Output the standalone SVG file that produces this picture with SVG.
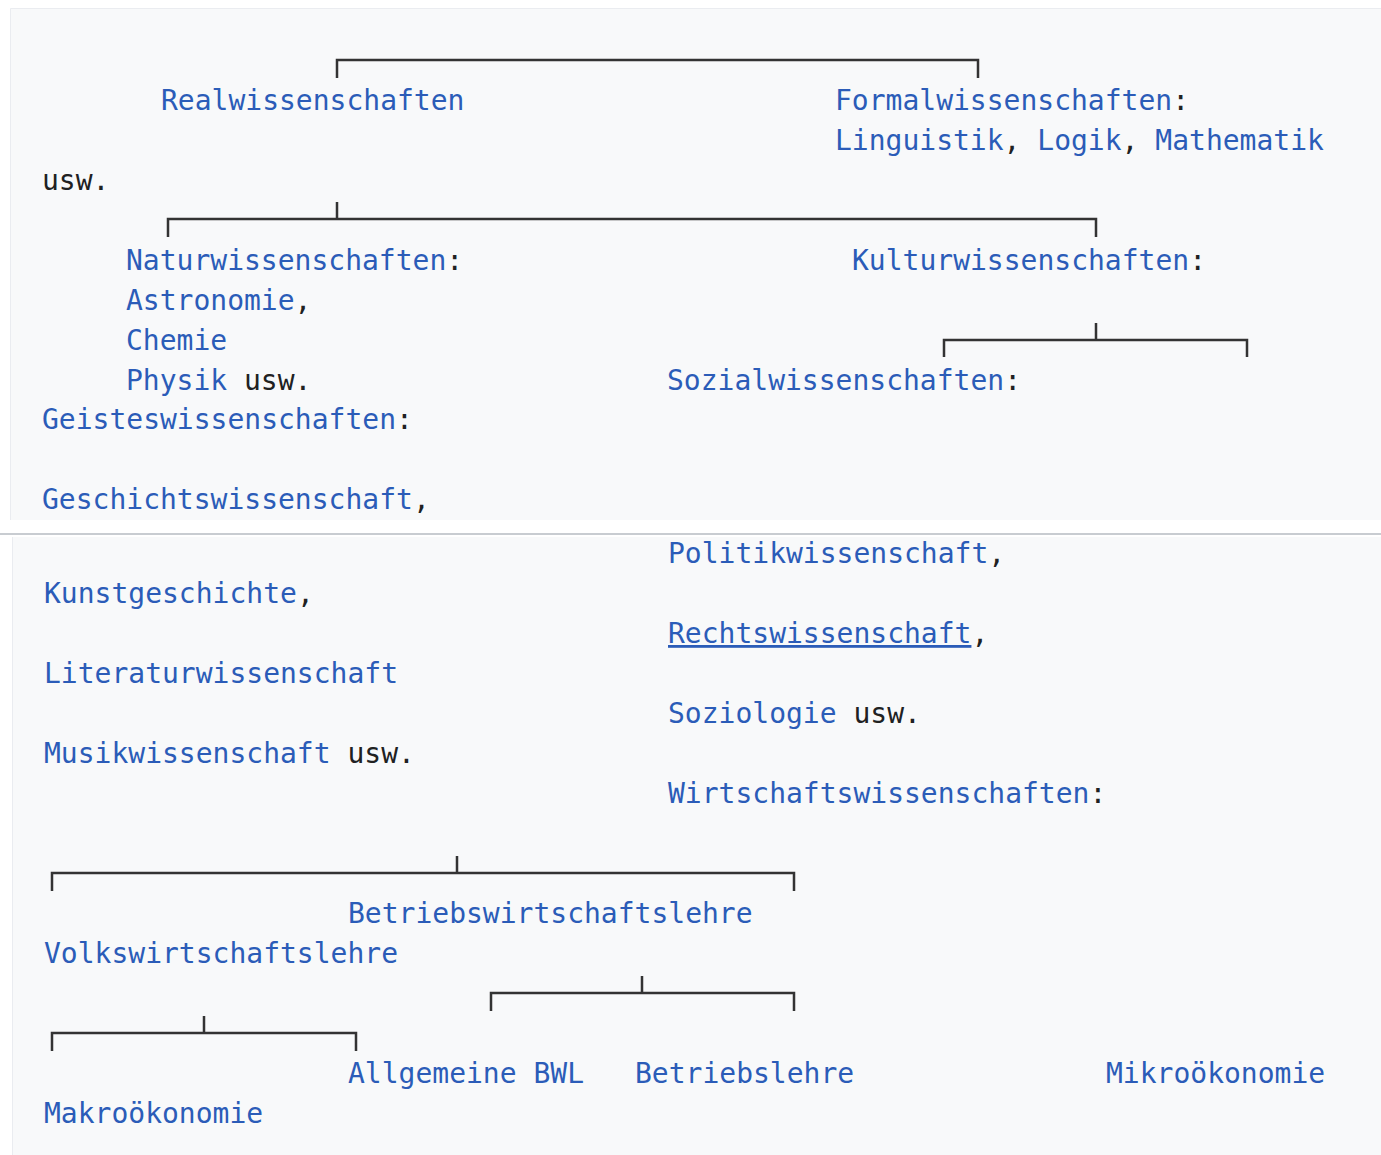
<svg xmlns="http://www.w3.org/2000/svg" width="1381" height="1155" viewBox="0 0 1381 1155">
  <style>
    .t{font-family:"DejaVu Sans Mono","Liberation Mono",monospace;font-size:28px;fill:#2b5cb8}
    .k{fill:#202122}
    .u{text-decoration:underline}
    .c{stroke:#333;stroke-width:2.5;fill:none}
  </style>

  <!-- page background and the two preformatted panels -->
  <rect x="0" y="0" width="1381" height="1155" fill="#ffffff"/>
  <rect x="10" y="8" width="1371" height="512" fill="#f8f9fa"/>
  <path d="M10.5,520 V8.5 H1381" stroke="#eaecf0" stroke-width="1" fill="none"/>
  <rect x="0" y="533" width="1381" height="2" fill="#c8ccd1"/>
  <rect x="12" y="537" width="1369" height="618" fill="#f8f9fa"/>
  <path d="M12.5,1155 V537" stroke="#eaecf0" stroke-width="1" fill="none"/>

  <!-- tree connectors -->
  <g id="connectors">
    <path class="c" d="M337,78 V60 H978 V78"/>
    <path class="c" d="M168,237 V219 H1096 V237 M337,202 V219"/>
    <path class="c" d="M944,357 V340 H1247 V357 M1096,323 V340"/>
    <path class="c" d="M52,891 V873 H794 V891 M457,856 V873"/>
    <path class="c" d="M491,1011 V993 H794 V1011 M642,976 V993"/>
    <path class="c" d="M52,1051 V1033 H356 V1051 M204,1016 V1033"/>
  </g>

  <!-- upper panel -->
  <g id="realwissenschaften">
    <text class="t" x="161" y="110">Realwissenschaften</text>
  </g>
  <g id="formalwissenschaften">
    <text class="t" x="835" y="110">Formalwissenschaften<tspan class="k">:</tspan></text>
    <text class="t" x="835" y="150" xml:space="preserve">Linguistik<tspan class="k">,</tspan> Logik<tspan class="k">,</tspan> Mathematik</text>
    <text class="t k" x="42" y="190">usw.</text>
  </g>
  <g id="naturwissenschaften">
    <text class="t" x="126" y="270">Naturwissenschaften<tspan class="k">:</tspan></text>
    <text class="t" x="126" y="310">Astronomie<tspan class="k">,</tspan></text>
    <text class="t" x="126" y="350">Chemie</text>
    <text class="t" x="126" y="390" xml:space="preserve">Physik <tspan class="k">usw.</tspan></text>
  </g>
  <g id="kulturwissenschaften">
    <text class="t" x="852" y="270">Kulturwissenschaften<tspan class="k">:</tspan></text>
  </g>
  <g id="geisteswissenschaften">
    <text class="t" x="42" y="429">Geisteswissenschaften<tspan class="k">:</tspan></text>
    <text class="t" x="42" y="509">Geschichtswissenschaft<tspan class="k">,</tspan></text>
    <text class="t" x="44" y="603">Kunstgeschichte<tspan class="k">,</tspan></text>
    <text class="t" x="44" y="683">Literaturwissenschaft</text>
    <text class="t" x="44" y="763" xml:space="preserve">Musikwissenschaft <tspan class="k">usw.</tspan></text>
  </g>
  <g id="sozialwissenschaften">
    <text class="t" x="667" y="390">Sozialwissenschaften<tspan class="k">:</tspan></text>
    <text class="t" x="668" y="563">Politikwissenschaft<tspan class="k">,</tspan></text>
    <text class="t" x="668" y="643"><tspan class="u">Rechtswissenschaft</tspan><tspan class="k">,</tspan></text>
    <text class="t" x="668" y="723" xml:space="preserve">Soziologie <tspan class="k">usw.</tspan></text>
  </g>

  <!-- lower panel -->
  <g id="wirtschaftswissenschaften">
    <text class="t" x="668" y="803">Wirtschaftswissenschaften<tspan class="k">:</tspan></text>
  </g>
  <g id="betriebswirtschaftslehre">
    <text class="t" x="348" y="923">Betriebswirtschaftslehre</text>
  </g>
  <g id="volkswirtschaftslehre">
    <text class="t" x="44" y="963">Volkswirtschaftslehre</text>
  </g>
  <g id="allgemeine-bwl">
    <text class="t" x="348" y="1083">Allgemeine BWL</text>
  </g>
  <g id="betriebslehre">
    <text class="t" x="635" y="1083">Betriebslehre</text>
  </g>
  <g id="mikrooekonomie">
    <text class="t" x="1106" y="1083">Mikroökonomie</text>
  </g>
  <g id="makrooekonomie">
    <text class="t" x="44" y="1123">Makroökonomie</text>
  </g>
</svg>
